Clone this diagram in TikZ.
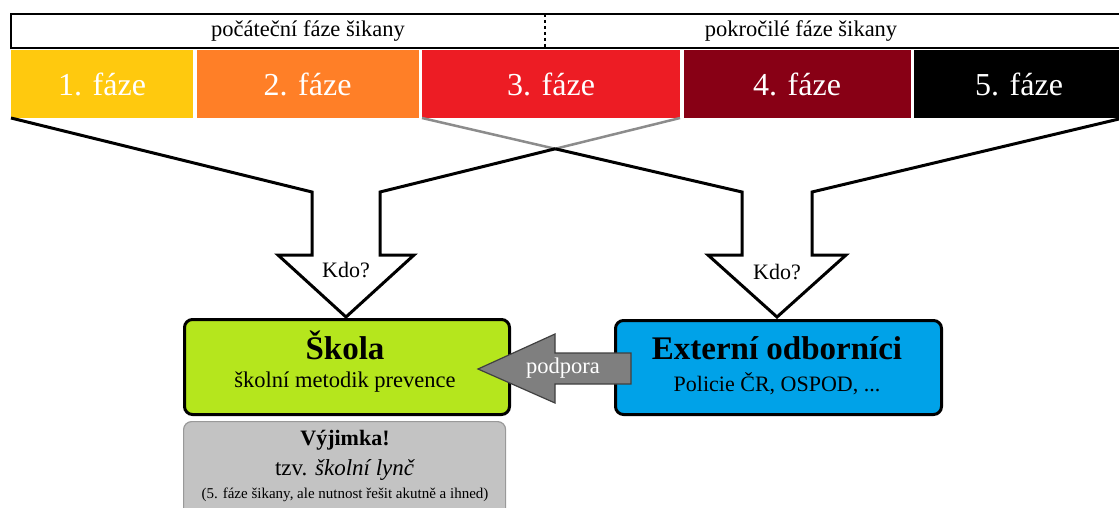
\documentclass[tikz,border=0pt]{standalone}
\usepackage{fontspec}
\setmainfont{Liberation Serif}
\usepackage{tikz}
\usetikzlibrary{calc}
\usetikzlibrary{positioning}

\definecolor{faze1}{HTML}{FFC90E}
\definecolor{faze2}{HTML}{FF7F27}
\definecolor{faze3}{HTML}{ED1C24}
\definecolor{faze4}{HTML}{880015}
\definecolor{faze5}{HTML}{000000}
\definecolor{skolni}{HTML}{B5E61D}
\definecolor{externi}{HTML}{00A2E8}
\definecolor{vyjimka}{HTML}{C3C3C3}
\definecolor{podporna}{HTML}{7F7F7F}

\begin{document}
\begin{tikzpicture}[
			x=1pt, y=-1pt,
			node distance=3.5pt,
			faze/.style={
				fill=#1,
				text=white,
				inner sep=0pt,
				outer sep=0pt,
				minimum height=68pt,
				font=\fontsize{32}{36}\selectfont,
			},
			hlavicka/.style={
				font=\fontsize{22.5}{25}\selectfont,
			},
			trychtyr/.style={line width=3pt, draw=black},
			%    spojka/.style={line width=2.5pt, gray},
			spojka/.style={line width=2.5pt, draw=black!45},
			blok/.style={
				draw=black,
				line width=3pt,
				rounded corners=8pt,
				inner sep=0pt,
				anchor=north west,
			},
			kdo/.style={font=\fontsize{22}{24}\selectfont},
			titulek/.style={font=\fontsize{33}{36}\selectfont\bfseries},
			podtitulek/.style={font=\fontsize{22.5}{26}\selectfont},
			]
			\useasboundingbox[fill=white] (0,0) rectangle (1119,508);
			%% Header
			\draw[line width=1.8pt] (11,14) rectangle (1130,48);
			\draw[line width=1.2pt, dashed] (545,14) -- (545,48);
			\node[hlavicka] (pocatek) at (308,31) {počáteční fáze šikany};
			\node[hlavicka] (pokrok) at (801,31) {pokročilé fáze šikany};
			%% Phases
			\node[faze=faze1, minimum width=182pt, anchor=north west] (f1) at (11,50) {1. fáze};
			\node[faze=faze2, minimum width=222pt, right=of f1] (f2) {2. fáze};
			\node[faze=faze3, minimum width=258pt, right=of f2] (f3) {3. fáze};
			\node[faze=faze4, minimum width=227pt, right=of f3] (f4) {4. fáze};
			\node[faze=faze5, minimum width=210pt, right=of f4] (f5) {5. fáze};
			%% Funnels
			\coordinate (lv) at (380,192);
			\coordinate (pv) at (742,192);
			\coordinate (krizeni) at (intersection of lv--f3.south east and f3.south west--pv);
			\draw[spojka] (f3.south west) -- (krizeni) -- (f3.south east);
			\draw[trychtyr] (f1.south west) -- (312,192) -- (312,255) -- (278,255) -- (346,317)
				-- (414,255) -- (380,255) -- (lv) -- (krizeni);
			\draw[trychtyr] (krizeni) -- (pv) -- (742,255) -- (708,255) -- (777,317)
				-- (846,255) -- (812,255) -- (812,192) -- (1119,119);
			\node[kdo] (kdo1) at (346,270) {Kdo?};
			\node[kdo] (kdo2) at (777,272) {Kdo?};
			%% Boxes
			\node[blok, draw=black!40, line width=1.2pt, fill=vyjimka,
				minimum width=322pt, minimum height=110pt] (vyj) at (183,421) {};
			\node[blok, fill=skolni, minimum width=325pt, minimum height=95pt] (skola) at (183,318) {};
			\node[blok, fill=externi, minimum width=326pt, minimum height=94pt] (ext) at (614,319) {};
			\node[titulek] (skola-t) at (345,345) {Škola};
			\node[podtitulek] (skola-p) at (345,382) {školní metodik prevence};
			\node[titulek] (ext-t) at (777,348) {Externí odborníci};
			\node[podtitulek, font=\fontsize{22}{26}\selectfont] (ext-p) at (777,384) {Policie ČR, OSPOD, ...};
			\node[font=\fontsize{22}{26}\selectfont\bfseries] (vyj-t) at (345,440) {Výjimka!};
			\node[font=\fontsize{23}{26}\selectfont] (vyj-p) at (345,470) {tzv. \textit{školní lynč}};
			\node[font=\fontsize{15}{18}\selectfont] (vyj-m) at (345,495) {(5. fáze šikany, ale nutnost řešit akutně a ihned)};
			%% Support arrow
			\coordinate (hrot) at ($(skola.east)+(-33,2)$);
			\draw[fill=podporna, draw=black!75, line width=1.2pt] (hrot) -- ++(77,-35) -- ++(0,19) -- ++(76,0)
				-- ++(0,31) -- ++(-76,0) -- ++(0,19) -- cycle;
			\node[text=white, font=\fontsize{22.5}{26}\selectfont] (podpora) at (563,368) {podpora};
		\end{tikzpicture}
\end{document}
